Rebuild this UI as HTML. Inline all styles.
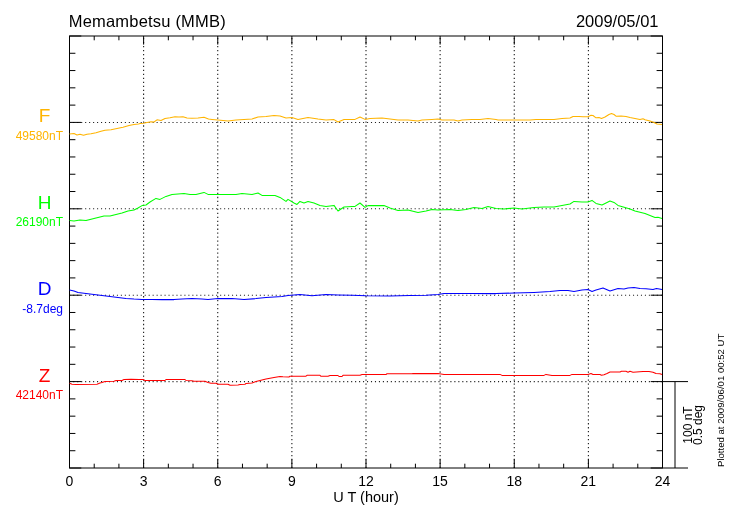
<!DOCTYPE html>
<html><head><meta charset="utf-8"><style>
html,body{margin:0;padding:0;background:#fff;width:730px;height:520px;overflow:hidden}
svg{display:block;will-change:transform}
text{font-family:"Liberation Sans",sans-serif;fill:#000}
.ax{stroke:#000;stroke-width:1;fill:none}
.dot{stroke:#111;stroke-width:1.05;stroke-dasharray:1.3 2.67;stroke-dashoffset:-2.03}
.doth{stroke:#222;stroke-width:1.05;stroke-dasharray:1.1 2.87}
.tr{fill:none;stroke-width:1.05;stroke-linejoin:round}
.ttl{font-size:16.5px}
.tick{font-size:14px}
.xl{font-size:14.5px}
.big{font-size:19px}
.val{font-size:12px}
.sb{font-size:12px}
.pl{font-size:9.6px}
</style></head><body>
<svg width="730" height="520" viewBox="0 0 730 520">
<line x1="143.62" y1="36.0" x2="143.62" y2="468.0" class="dot"/>
<line x1="217.75" y1="36.0" x2="217.75" y2="468.0" class="dot"/>
<line x1="291.88" y1="36.0" x2="291.88" y2="468.0" class="dot"/>
<line x1="366.00" y1="36.0" x2="366.00" y2="468.0" class="dot"/>
<line x1="440.12" y1="36.0" x2="440.12" y2="468.0" class="dot"/>
<line x1="514.25" y1="36.0" x2="514.25" y2="468.0" class="dot"/>
<line x1="588.38" y1="36.0" x2="588.38" y2="468.0" class="dot"/>
<line x1="69.24" y1="122.40" x2="662.5" y2="122.40" class="doth"/>
<line x1="69.24" y1="208.80" x2="662.5" y2="208.80" class="doth"/>
<line x1="69.24" y1="295.20" x2="662.5" y2="295.20" class="doth"/>
<line x1="69.24" y1="381.60" x2="662.5" y2="381.60" class="doth"/>
<line x1="69.50" y1="36.0" x2="69.50" y2="44.6" class="ax"/>
<line x1="69.50" y1="468.0" x2="69.50" y2="459.4" class="ax"/>
<line x1="94.21" y1="36.0" x2="94.21" y2="40.3" class="ax"/>
<line x1="94.21" y1="468.0" x2="94.21" y2="463.7" class="ax"/>
<line x1="118.92" y1="36.0" x2="118.92" y2="40.3" class="ax"/>
<line x1="118.92" y1="468.0" x2="118.92" y2="463.7" class="ax"/>
<line x1="143.62" y1="36.0" x2="143.62" y2="44.6" class="ax"/>
<line x1="143.62" y1="468.0" x2="143.62" y2="459.4" class="ax"/>
<line x1="168.33" y1="36.0" x2="168.33" y2="40.3" class="ax"/>
<line x1="168.33" y1="468.0" x2="168.33" y2="463.7" class="ax"/>
<line x1="193.04" y1="36.0" x2="193.04" y2="40.3" class="ax"/>
<line x1="193.04" y1="468.0" x2="193.04" y2="463.7" class="ax"/>
<line x1="217.75" y1="36.0" x2="217.75" y2="44.6" class="ax"/>
<line x1="217.75" y1="468.0" x2="217.75" y2="459.4" class="ax"/>
<line x1="242.46" y1="36.0" x2="242.46" y2="40.3" class="ax"/>
<line x1="242.46" y1="468.0" x2="242.46" y2="463.7" class="ax"/>
<line x1="267.17" y1="36.0" x2="267.17" y2="40.3" class="ax"/>
<line x1="267.17" y1="468.0" x2="267.17" y2="463.7" class="ax"/>
<line x1="291.88" y1="36.0" x2="291.88" y2="44.6" class="ax"/>
<line x1="291.88" y1="468.0" x2="291.88" y2="459.4" class="ax"/>
<line x1="316.58" y1="36.0" x2="316.58" y2="40.3" class="ax"/>
<line x1="316.58" y1="468.0" x2="316.58" y2="463.7" class="ax"/>
<line x1="341.29" y1="36.0" x2="341.29" y2="40.3" class="ax"/>
<line x1="341.29" y1="468.0" x2="341.29" y2="463.7" class="ax"/>
<line x1="366.00" y1="36.0" x2="366.00" y2="44.6" class="ax"/>
<line x1="366.00" y1="468.0" x2="366.00" y2="459.4" class="ax"/>
<line x1="390.71" y1="36.0" x2="390.71" y2="40.3" class="ax"/>
<line x1="390.71" y1="468.0" x2="390.71" y2="463.7" class="ax"/>
<line x1="415.42" y1="36.0" x2="415.42" y2="40.3" class="ax"/>
<line x1="415.42" y1="468.0" x2="415.42" y2="463.7" class="ax"/>
<line x1="440.12" y1="36.0" x2="440.12" y2="44.6" class="ax"/>
<line x1="440.12" y1="468.0" x2="440.12" y2="459.4" class="ax"/>
<line x1="464.83" y1="36.0" x2="464.83" y2="40.3" class="ax"/>
<line x1="464.83" y1="468.0" x2="464.83" y2="463.7" class="ax"/>
<line x1="489.54" y1="36.0" x2="489.54" y2="40.3" class="ax"/>
<line x1="489.54" y1="468.0" x2="489.54" y2="463.7" class="ax"/>
<line x1="514.25" y1="36.0" x2="514.25" y2="44.6" class="ax"/>
<line x1="514.25" y1="468.0" x2="514.25" y2="459.4" class="ax"/>
<line x1="538.96" y1="36.0" x2="538.96" y2="40.3" class="ax"/>
<line x1="538.96" y1="468.0" x2="538.96" y2="463.7" class="ax"/>
<line x1="563.67" y1="36.0" x2="563.67" y2="40.3" class="ax"/>
<line x1="563.67" y1="468.0" x2="563.67" y2="463.7" class="ax"/>
<line x1="588.38" y1="36.0" x2="588.38" y2="44.6" class="ax"/>
<line x1="588.38" y1="468.0" x2="588.38" y2="459.4" class="ax"/>
<line x1="613.08" y1="36.0" x2="613.08" y2="40.3" class="ax"/>
<line x1="613.08" y1="468.0" x2="613.08" y2="463.7" class="ax"/>
<line x1="637.79" y1="36.0" x2="637.79" y2="40.3" class="ax"/>
<line x1="637.79" y1="468.0" x2="637.79" y2="463.7" class="ax"/>
<line x1="662.50" y1="36.0" x2="662.50" y2="44.6" class="ax"/>
<line x1="662.50" y1="468.0" x2="662.50" y2="459.4" class="ax"/>
<line x1="69.5" y1="36.00" x2="81.3" y2="36.00" class="ax"/>
<line x1="662.5" y1="36.00" x2="650.7" y2="36.00" class="ax"/>
<line x1="69.5" y1="53.28" x2="75.4" y2="53.28" class="ax"/>
<line x1="662.5" y1="53.28" x2="656.6" y2="53.28" class="ax"/>
<line x1="69.5" y1="70.56" x2="75.4" y2="70.56" class="ax"/>
<line x1="662.5" y1="70.56" x2="656.6" y2="70.56" class="ax"/>
<line x1="69.5" y1="87.84" x2="75.4" y2="87.84" class="ax"/>
<line x1="662.5" y1="87.84" x2="656.6" y2="87.84" class="ax"/>
<line x1="69.5" y1="105.12" x2="75.4" y2="105.12" class="ax"/>
<line x1="662.5" y1="105.12" x2="656.6" y2="105.12" class="ax"/>
<line x1="69.5" y1="122.40" x2="81.3" y2="122.40" class="ax"/>
<line x1="662.5" y1="122.40" x2="650.7" y2="122.40" class="ax"/>
<line x1="69.5" y1="139.68" x2="75.4" y2="139.68" class="ax"/>
<line x1="662.5" y1="139.68" x2="656.6" y2="139.68" class="ax"/>
<line x1="69.5" y1="156.96" x2="75.4" y2="156.96" class="ax"/>
<line x1="662.5" y1="156.96" x2="656.6" y2="156.96" class="ax"/>
<line x1="69.5" y1="174.24" x2="75.4" y2="174.24" class="ax"/>
<line x1="662.5" y1="174.24" x2="656.6" y2="174.24" class="ax"/>
<line x1="69.5" y1="191.52" x2="75.4" y2="191.52" class="ax"/>
<line x1="662.5" y1="191.52" x2="656.6" y2="191.52" class="ax"/>
<line x1="69.5" y1="208.80" x2="81.3" y2="208.80" class="ax"/>
<line x1="662.5" y1="208.80" x2="650.7" y2="208.80" class="ax"/>
<line x1="69.5" y1="226.08" x2="75.4" y2="226.08" class="ax"/>
<line x1="662.5" y1="226.08" x2="656.6" y2="226.08" class="ax"/>
<line x1="69.5" y1="243.36" x2="75.4" y2="243.36" class="ax"/>
<line x1="662.5" y1="243.36" x2="656.6" y2="243.36" class="ax"/>
<line x1="69.5" y1="260.64" x2="75.4" y2="260.64" class="ax"/>
<line x1="662.5" y1="260.64" x2="656.6" y2="260.64" class="ax"/>
<line x1="69.5" y1="277.92" x2="75.4" y2="277.92" class="ax"/>
<line x1="662.5" y1="277.92" x2="656.6" y2="277.92" class="ax"/>
<line x1="69.5" y1="295.20" x2="81.3" y2="295.20" class="ax"/>
<line x1="662.5" y1="295.20" x2="650.7" y2="295.20" class="ax"/>
<line x1="69.5" y1="312.48" x2="75.4" y2="312.48" class="ax"/>
<line x1="662.5" y1="312.48" x2="656.6" y2="312.48" class="ax"/>
<line x1="69.5" y1="329.76" x2="75.4" y2="329.76" class="ax"/>
<line x1="662.5" y1="329.76" x2="656.6" y2="329.76" class="ax"/>
<line x1="69.5" y1="347.04" x2="75.4" y2="347.04" class="ax"/>
<line x1="662.5" y1="347.04" x2="656.6" y2="347.04" class="ax"/>
<line x1="69.5" y1="364.32" x2="75.4" y2="364.32" class="ax"/>
<line x1="662.5" y1="364.32" x2="656.6" y2="364.32" class="ax"/>
<line x1="69.5" y1="381.60" x2="81.3" y2="381.60" class="ax"/>
<line x1="662.5" y1="381.60" x2="650.7" y2="381.60" class="ax"/>
<line x1="69.5" y1="398.88" x2="75.4" y2="398.88" class="ax"/>
<line x1="662.5" y1="398.88" x2="656.6" y2="398.88" class="ax"/>
<line x1="69.5" y1="416.16" x2="75.4" y2="416.16" class="ax"/>
<line x1="662.5" y1="416.16" x2="656.6" y2="416.16" class="ax"/>
<line x1="69.5" y1="433.44" x2="75.4" y2="433.44" class="ax"/>
<line x1="662.5" y1="433.44" x2="656.6" y2="433.44" class="ax"/>
<line x1="69.5" y1="450.72" x2="75.4" y2="450.72" class="ax"/>
<line x1="662.5" y1="450.72" x2="656.6" y2="450.72" class="ax"/>
<line x1="69.5" y1="468.00" x2="81.3" y2="468.00" class="ax"/>
<line x1="662.5" y1="468.00" x2="650.7" y2="468.00" class="ax"/>
<rect x="69.5" y="36.0" width="593.0" height="432.0" class="ax" fill="none"/>
<line x1="662.5" y1="381.60" x2="688" y2="381.60" class="ax"/>
<line x1="662.5" y1="468.0" x2="688" y2="468.0" class="ax"/>
<line x1="675" y1="381.60" x2="675" y2="468.0" class="ax"/>
<polyline points="69.5,134 74,133.5 77,135 80,134.3 83.5,135.2 87,134.3 91,133.8 96,132.7 101,131.2 105,130.2 111,129.7 117,128.5 123,127.2 129,125.5 134,124.5 138.5,124 140,123.5 143.5,123.2 147,122.5 151,121.8 154,122 157,119.8 161,120.5 165,118.5 170,117.8 175,116.7 179,117 183,116.7 187,118 192,118.3 198,118 204,117.2 208.5,119 212,119.4 218,120 228,121 236,120 244,119.4 252,119 258,117 266,116.4 274,115.4 280,116 286,118 292,117.6 298,119.4 308,117.4 318,119 326,120 334,119.6 338,122 344,119.6 352,119.4 355,119.4 360,117 365,119.4 370,118.4 382,118 390,119 398,120 408,120 418,121 422,120 432,119.4 438,119 442,120 454,120 458,121 462,120 472,119.4 480,119.4 488,118.6 496,119.6 498,120 514,120 530,120 536,119.4 554,119.4 562,118.6 570,118 573,116.5 579,116.5 583,116.8 588,116.8 591,115.3 593,115.5 596,117.8 599,117.5 601.5,118.5 605,117 609,114.5 611.5,113.5 614,114.5 616,116.2 621,116 626,116.5 630,117.5 635,118.5 640,119.5 643,118.8 645,119.8 650,121 654,122.5 657,124 662,124.5" class="tr" stroke="#ffb400"/>
<polyline points="69.6,220.6 74,221 80,220 86,220.6 92,219 98,217.4 104,216 110,216 116,214.4 122,213 128,211 134,210 138,208 142,205.6 146,205 150,202 156,198.4 160,199.4 166,196.4 172,194.4 178,194 184,193.6 190,194.4 196,194.4 204,192.4 208,194.4 216,194.4 226,194.4 236,194.4 242,193.4 252,194.4 258,193 262,195.4 275,195.4 280,197.4 286,201.4 288,199.4 294,203 297,204.4 300,201.4 304,203 308,201.6 314,203 320,205.4 326,206.4 334,205.4 338,211 344,207 352,206.6 355,206.4 360,203 365,207.4 368,205.6 384,205.6 390,208 398,210.4 408,210 418,212.4 426,211 432,209.4 438,210 450,209.4 458,210.4 466,209.4 474,207.4 482,208.4 488,206.4 496,208.4 504,209 514,208 522,209 534,207.4 544,207 554,207 562,205.4 570,204 574,201.4 582,202 588,202 592,200.4 596,203.4 602,205 610,201 614,202.4 618,205.4 625,207.5 630,209 635,211 640,212.2 645,213.5 650,215.5 655,217.5 658,217.2 662,218.5" class="tr" stroke="#00ff00"/>
<polyline points="69.6,290 74,291 78,292.4 86,293.4 94,294.4 102,295.4 110,296.4 118,297.4 126,298.4 134,299 142,299.4 152,299.6 162,299.6 174,299.6 182,299 192,298.4 202,299 208,299.4 218,298.6 232,298.6 244,299.4 256,298.6 266,297.6 282,296.4 288,295.4 300,294.6 312,295.8 326,294.6 338,295 352,295.2 366,295.8 390,296 410,295.4 426,295.2 438,294.4 444,293.6 454,293.4 470,293.6 496,293.6 514,293 534,292.4 550,291.6 560,290.4 568,290.4 574,291.4 582,290 588,289.6 592,291.4 596,290 603,288 610,291 618,288.6 624,289 628,288 634,287.5 640,288.5 646,288.8 653,289.5 656.5,288.5 662,289.5" class="tr" stroke="#0000ff"/>
<polyline points="69.6,383.2 72,384.2 76,384.5 97,384.2 100,383 102,382.5 105,381.5 114,381.2 116,380.5 122,380.5 124,379.5 131,379.2 139,379.5 143,379.5 145,380.5 165,380.5 166,379.5 185,379.5 186,380.5 192,380.8 194,381.3 205,381.3 208,382.5 211,383.2 216,383.2 218,384.2 228,384.2 230,385.2 238,385 240,384.5 245,384.2 246,383.5 252,383 256,381.5 260,380.5 266,379 274,377.5 280,376.5 283,376.8 289,377 290,376.2 306,376.2 307,375.3 320,375.3 321,376.3 328,376.3 330,375.5 338,375.5 339,376.5 342,376.5 343,375.3 360,375.3 362,374.5 386,374.5 387,373.8 412,373.8 413,373.5 438,373.6 444,374.4 496,374.4 500,374.4 502,375.4 544,375.4 546,374.4 552,375.4 570,375.4 572,374.4 588,374.5 591,373.5 593,374.5 600,374.5 601.5,375.3 604,374.7 607,373.5 610,372 620,372 621.5,371.3 626,371.3 628,372.2 630,371.3 633,372.2 643,371.5 649,371.5 653,372.2 656,373.5 660,373.8 662,374.5" class="tr" stroke="#ff0000"/>
<text x="68.7" y="27" class="ttl" style="letter-spacing:0.2px">Memambetsu (MMB)</text>
<text x="658.5" y="27" class="ttl" text-anchor="end">2009/05/01</text>
<text x="69.50" y="485.8" class="tick" text-anchor="middle">0</text>
<text x="143.62" y="485.8" class="tick" text-anchor="middle">3</text>
<text x="217.75" y="485.8" class="tick" text-anchor="middle">6</text>
<text x="291.88" y="485.8" class="tick" text-anchor="middle">9</text>
<text x="366.00" y="485.8" class="tick" text-anchor="middle">12</text>
<text x="440.12" y="485.8" class="tick" text-anchor="middle">15</text>
<text x="514.25" y="485.8" class="tick" text-anchor="middle">18</text>
<text x="588.38" y="485.8" class="tick" text-anchor="middle">21</text>
<text x="662.50" y="485.8" class="tick" text-anchor="middle">24</text>
<text x="366" y="502" class="xl" text-anchor="middle">U T (hour)</text>
<text x="44.5" y="122.40" class="big" text-anchor="middle" style="fill:#ffb400">F</text>
<text x="63" y="140.00" class="val" text-anchor="end" style="fill:#ffb400">49580nT</text>
<text x="44.5" y="208.80" class="big" text-anchor="middle" style="fill:#00ff00">H</text>
<text x="63" y="226.40" class="val" text-anchor="end" style="fill:#00ff00">26190nT</text>
<text x="44.5" y="295.20" class="big" text-anchor="middle" style="fill:#0000ff">D</text>
<text x="63" y="312.80" class="val" text-anchor="end" style="fill:#0000ff">-8.7deg</text>
<text x="44.5" y="381.60" class="big" text-anchor="middle" style="fill:#ff0000">Z</text>
<text x="63" y="399.20" class="val" text-anchor="end" style="fill:#ff0000">42140nT</text>
<text transform="translate(691.8,425) rotate(-90)" class="sb" text-anchor="middle">100 nT</text>
<text transform="translate(702,425) rotate(-90)" class="sb" text-anchor="middle">0.5 deg</text>
<text transform="translate(724.2,467) rotate(-90)" class="pl">Plotted at 2009/06/01 00:52 UT</text>
</svg>
</body></html>
